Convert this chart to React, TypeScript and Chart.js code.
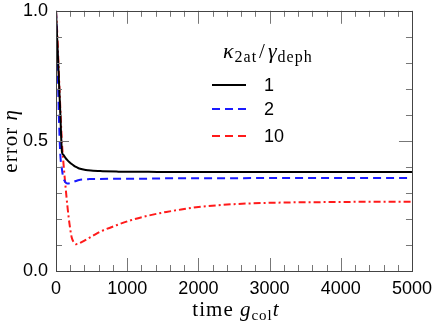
import React, { useEffect, useRef } from "react";
import { Chart, registerables } from "chart.js";
Chart.register(...registerables);

const times = [0, 20, 40, 60, 84, 100, 130, 160, 190, 220, 250, 280, 310, 340, 400, 450, 520, 620, 850, 1050, 1300, 1550, 1800, 2000, 2250, 2500, 2750, 3000, 3400, 3900, 4400, 5000];
const eta1 = [1.0, 0.87, 0.74, 0.61, 0.457, 0.448, 0.436, 0.426, 0.418, 0.411, 0.405, 0.4, 0.396, 0.393, 0.389, 0.387, 0.385, 0.384, 0.382, 0.381, 0.381, 0.38, 0.38, 0.38, 0.38, 0.38, 0.38, 0.38, 0.38, 0.38, 0.38, 0.38];
const eta2 = [1.0, 0.82, 0.6, 0.45, 0.39, 0.362, 0.342, 0.336, 0.337, 0.34, 0.343, 0.346, 0.349, 0.351, 0.352, 0.353, 0.354, 0.354, 0.355, 0.355, 0.355, 0.356, 0.356, 0.356, 0.356, 0.356, 0.357, 0.357, 0.357, 0.357, 0.357, 0.357];
const eta10 = [1.0, 0.9, 0.76, 0.63, 0.49, 0.43, 0.336, 0.25, 0.18, 0.13, 0.11, 0.103, 0.104, 0.108, 0.117, 0.125, 0.136, 0.151, 0.176, 0.195, 0.213, 0.227, 0.238, 0.246, 0.252, 0.257, 0.26, 0.262, 0.264, 0.265, 0.266, 0.266];
const seriesLabels = ["1", "2", "10"];
const xTicks = [0, 1000, 2000, 3000, 4000, 5000];
const yTicks = [0, 0.5, 1.0];

const toPts = (vals: number[]) => vals.map((v, i) => ({ x: times[i], y: v }));

const serif = "'Liberation Serif', serif";
type Part = [string, string, number, number?];

function drawParts(ctx: any, parts: Part[], x0: number, y: number) {
  for (const p of parts) {
    ctx.font = p[1];
    x0 += p[3] || 0;
    ctx.fillText(p[0], x0, y + p[2]);
    x0 += ctx.measureText(p[0]).width + (p[3] || 0);
  }
}
function partsWidth(ctx: any, parts: Part[]) {
  let w = 0;
  for (const p of parts) { ctx.font = p[1]; w += ctx.measureText(p[0]).width + 2 * (p[3] || 0); }
  return w;
}

const decor = {
  id: "decor",
  afterDraw(chart: any) {
    const { ctx, chartArea: a, scales } = chart;
    const xs = scales.x, ys = scales.y;
    ctx.save();
    ctx.strokeStyle = "#777";
    ctx.lineWidth = 1;
    for (let t = 0; t <= 5000; t += 200) {
      const px = Math.round(xs.getPixelForValue(t)) + 0.5;
      const len = t % 1000 === 0 ? 13 : 6;
      ctx.beginPath();
      ctx.moveTo(px, a.bottom); ctx.lineTo(px, a.bottom - len);
      ctx.moveTo(px, a.top); ctx.lineTo(px, a.top + len);
      ctx.stroke();
    }
    for (let k = 0; k <= 10; k++) {
      const v = k / 10;
      const py = Math.round(ys.getPixelForValue(v)) + 0.5;
      const len = k % 5 === 0 ? 13 : 6;
      ctx.beginPath();
      ctx.moveTo(a.left, py); ctx.lineTo(a.left + len, py);
      ctx.moveTo(a.right, py); ctx.lineTo(a.right - len, py);
      ctx.stroke();
    }
    ctx.strokeStyle = "#444";
    ctx.strokeRect(Math.round(a.left) + 0.5, Math.round(a.top) + 0.5, Math.round(a.right - a.left), Math.round(a.bottom - a.top));

    ctx.fillStyle = "#000";
    ctx.textBaseline = "alphabetic";
    try { ctx.letterSpacing = "1px"; } catch (e) {}
    const xparts: Part[] = [
      ["time ", `21px ${serif}`, 0],
      ["g", `italic 21px ${serif}`, 0],
      ["col", `15px ${serif}`, 4],
      ["t", `italic 21px ${serif}`, 0],
    ];
    const cx = (a.left + a.right) / 2;
    drawParts(ctx, xparts, cx - partsWidth(ctx, xparts) / 2 + 2, 316);

    ctx.save();
    ctx.translate(17, (a.top + a.bottom) / 2);
    ctx.rotate(-Math.PI / 2);
    const yparts: Part[] = [["error ", `21px ${serif}`, 0], ["η", `italic 21px ${serif}`, 0]];
    drawParts(ctx, yparts, -partsWidth(ctx, yparts) / 2, 0);
    ctx.restore();

    const lparts: Part[] = [
      ["κ", `italic 22px ${serif}`, 0],
      ["2at", `16px ${serif}`, 4],
      ["/", `21px ${serif}`, 0, 2],
      ["γ", `italic 22px ${serif}`, 0],
      ["deph", `16px ${serif}`, 4],
    ];
    drawParts(ctx, lparts, 223, 58);
    try { ctx.letterSpacing = "0px"; } catch (e) {}

    const rows = [85, 109, 136];
    chart.data.datasets.forEach((ds: any, i: number) => {
      const y = rows[i];
      ctx.strokeStyle = ds.borderColor;
      ctx.lineWidth = ds.borderWidth;
      ctx.setLineDash(ds.legendDash || ds.borderDash || []);
      ctx.beginPath();
      ctx.moveTo(212, y); ctx.lineTo(246, y);
      ctx.stroke();
      ctx.setLineDash([]);
      ctx.fillStyle = "#000";
      ctx.font = "18px 'Liberation Sans', Arial, sans-serif";
      ctx.textBaseline = "middle";
      ctx.fillText(ds.label, 264, y + 1);
    });
    ctx.restore();
  },
};

const hiddenGrid = (len: number) => ({ display: true, drawOnChartArea: false, drawTicks: true, tickLength: len, color: "rgba(0,0,0,0)" });

export default function App() {
  const ref = useRef<HTMLCanvasElement>(null);
  useEffect(() => {
    document.body.style.margin = "0";
    const chart = new Chart(ref.current!, {
      type: "line",
      data: {
        datasets: [
          { label: seriesLabels[0], data: toPts(eta1), borderColor: "#000000", borderWidth: 2, pointRadius: 0, cubicInterpolationMode: "monotone", fill: false },
          { label: seriesLabels[1], data: toPts(eta2), borderColor: "#1a1aff", borderWidth: 2, borderDash: [8, 5], legendDash: [8, 5], pointRadius: 0, cubicInterpolationMode: "monotone", fill: false } as any,
          { label: seriesLabels[2], data: toPts(eta10), borderColor: "#ff1a1a", borderWidth: 2, borderDash: [7, 3, 2, 3], legendDash: [8, 5], pointRadius: 0, cubicInterpolationMode: "monotone", fill: false } as any,
        ],
      },
      options: {
        animation: false,
        responsive: true,
        maintainAspectRatio: false,
        layout: { padding: { left: 0, right: 24, top: 10, bottom: 0 } },
        plugins: { legend: { display: false }, tooltip: { enabled: false } },
        scales: {
          x: {
            type: "linear",
            min: 0,
            max: 5000,
            afterBuildTicks: (s: any) => { s.ticks = xTicks.map((v) => ({ value: v })); },
            afterFit: (s: any) => { s.height = 57; },
            grid: hiddenGrid(3),
            border: { display: false },
            ticks: { padding: 4, maxRotation: 0, color: "#000", font: { family: "'Liberation Sans', Arial, sans-serif", size: 18 }, callback: (v: any) => String(v) },
          },
          y: {
            type: "linear",
            min: 0,
            max: 1,
            afterBuildTicks: (s: any) => { s.ticks = yTicks.map((v) => ({ value: v })); },
            afterFit: (s: any) => { s.width = 56; },
            grid: hiddenGrid(8),
            border: { display: false },
            ticks: { padding: 0, color: "#000", font: { family: "'Liberation Sans', Arial, sans-serif", size: 18 }, callback: (v: any) => Number(v).toFixed(1) },
          },
        },
      },
      plugins: [decor],
    });
    return () => chart.destroy();
  }, []);
  return (
    <div style={{ position: "relative", width: 436, height: 328 }}>
      <canvas ref={ref} />
    </div>
  );
}
